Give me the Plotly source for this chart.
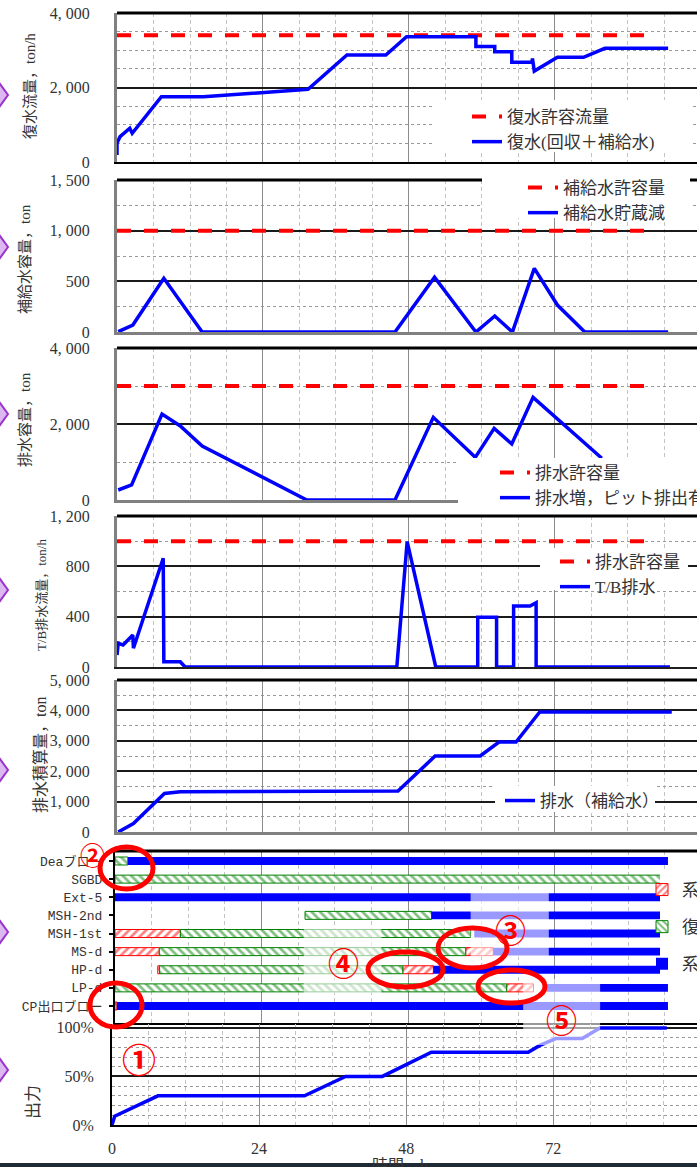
import plotly.graph_objects as go

W, H = 697, 1167

# ------------------------------------------------------------------ data
x_tick_vals = [0, 24, 48, 72, 96]
x_tick_text = ["0", "24", "48", "72", "96"]
x_title = "時間，h"

limit_t = [0, 88]

# panel 1 : 復水流量
cond_t = [0, 0, 0.5, 2.1, 2.5, 7.3, 14.2, 31.4, 37.8, 44.2, 47.6, 59.0, 59.0, 62.1, 62.1,
          64.9, 64.9, 68.2, 68.3, 68.6, 72.4, 76.7, 80.2, 90.6]
cond_v = [190, 510, 680, 905, 770, 1753, 1753, 1950, 2872, 2872, 3364, 3364, 3100, 3100, 2962,
          2962, 2677, 2677, 2780, 2442, 2810, 2810, 3052, 3052]
cond_limit = [3400, 3400]
p1_ticks = [0, 2000, 4000]
p1_text = ["0", "2, 000", "4, 000"]

# panel 2 : 補給水容量
mk_t = [0.2, 2.6, 7.7, 14.0, 45.7, 52.2, 59.0, 62.1, 65.0, 68.6, 72.4, 76.9, 90.6]
mk_v = [3, 69, 530, 0, 0, 540, 0, 158, 0, 628, 266, 0, 0]
mk_limit = [1000, 1000]
p2_ticks = [0, 500, 1000, 1500]
p2_text = ["0", "500", "1, 000", "1, 500"]

# panel 3 : 排水容量
dr_t = [0.2, 2.4, 7.4, 10.4, 14.0, 31.2, 45.7, 52.0, 58.9, 62.0, 64.9, 68.4, 79.7]
dr_v = [263, 395, 2263, 1947, 1421, 0, 0, 2175, 1123, 1886, 1474, 2702, 1097]
dr_limit = [3000, 3000]
p3_ticks = [0, 2000, 4000]
p3_text = ["0", "2, 000", "4, 000"]

# panel 4 : T/B排水流量
tb_t = [0, 0.2, 1.0, 2.6, 2.7, 7.6, 7.7, 10.4, 11.2, 46.0, 47.7, 52.4, 59.3, 59.3, 62.4, 62.4,
        65.2, 65.2, 67.9, 68.9, 68.9, 90.9]
tb_v = [95, 188, 175, 254, 149, 864, 42, 42, 0, 0, 996, 0, 0, 395, 395, 0,
        0, 485, 485, 511, 0, 0]
tb_limit = [1000, 1000]
p4_ticks = [0, 400, 800, 1200]
p4_text = ["0", "400", "800", "1, 200"]

# panel 5 : 排水積算量
cum_t = [0.2, 2.7, 7.8, 10.4, 46.2, 52.3, 59.7, 62.8, 65.6, 69.5, 91.2]
cum_v = [0, 280, 1266, 1327, 1345, 2500, 2500, 2960, 2960, 3947, 3947]
p5_ticks = [0, 1000, 2000, 3000, 4000, 5000]
p5_text = ["0", "1, 000", "2, 000", "3, 000", "4, 000", "5, 000"]

# panel 6 : gantt
gantt_rows = ["Deaブロー", "SGBD", "Ext-5", "MSH-2nd", "MSH-1st", "MS-d", "HP-d", "LP-d", "CP出口ブロー"]
red_row = ["MSH-1st", "MS-d", "HP-d", "MS-d", "HP-d", "LP-d", "CP出口ブロー"]
red_start = [0, 0, 7.0, 57.4, 47.1, 64.1, 0]
red_end = [10.7, 7.25, 7.3, 61.9, 52.1, 68.5, 0.3]
green_row = ["Deaブロー", "SGBD", "MSH-2nd", "MSH-1st", "MS-d", "HP-d", "LP-d"]
green_start = [0, 0, 31.1, 10.7, 7.25, 7.3, 0]
green_end = [2.1, 90.5, 51.8, 58.2, 57.4, 47.1, 64.1]
blue_row = ["Deaブロー", "Ext-5", "MSH-2nd", "MSH-1st", "MS-d", "HP-d", "LP-d", "CP出口ブロー"]
blue_start = [2.1, 0, 51.8, 58.8, 61.9, 52.1, 70.7, 0.3]
blue_end = [90.5, 90.5, 90.5, 90.5, 90.5, 90.5, 90.5, 90.5]
gantt_names = ["系統内回収", "復水器回収", "系外排出"]

# panel 7 : 出力
pw_t = [0, 0.44, 7.5, 31.4, 38.1, 44.1, 52.1, 67.9, 69.8, 72.4, 76.7, 79.6, 90.5]
pw_v = [0, 0.09, 0.30, 0.30, 0.50, 0.50, 0.75, 0.75, 0.82, 0.89, 0.89, 1.0, 1.0]
p7_ticks = [0, 0.5, 1.0]
p7_text = ["0%", "50%", "100%"]

# ------------------------------------------------------------------ style
BLUE = "#0000FF"
RED = "#FF0000"
GREEN = "#008000"
TXT = "#333333"
SERIF = "Liberation Serif, Noto Sans CJK JP, serif"
MONO = "Liberation Mono, Noto Sans CJK JP, monospace"
CJK = "Noto Sans CJK JP, sans-serif"
DASH = "14px,13px"


def px(v):
    return v / W


def py(v):
    return 1 - v / H


# panel geometry (pixels): top, bottom, left, px per hour
geo = {
    1: (13, 162, 117, 6.083),
    2: (180, 332, 117, 6.083),
    3: (348, 500, 117, 6.083),
    4: (516, 667, 117, 6.083),
    5: (680, 832, 117, 6.083),
    6: (851, 1023, 115, 6.11),
    7: (1024, 1125, 112, 6.13),
}

fig = go.Figure()


def ax(i):
    return ("x" if i == 1 else f"x{i}"), ("y" if i == 1 else f"y{i}")


def add_line(i, t, v, name, color, legend, dash=None, width=3.5, show=True):
    xa, ya = ax(i)
    fig.add_trace(go.Scatter(x=t, y=v, mode="lines", name=name,
                             line=dict(color=color, width=width, dash=dash),
                             xaxis=xa, yaxis=ya, legend=legend, showlegend=show,
                             hoverinfo="skip"))


add_line(1, limit_t, cond_limit, "復水許容流量", RED, "legend", DASH, 4)
add_line(1, cond_t, cond_v, "復水(回収＋補給水)", BLUE, "legend")
add_line(2, limit_t, mk_limit, "補給水許容量", RED, "legend2", DASH, 4)
add_line(2, mk_t, mk_v, "補給水貯蔵減", BLUE, "legend2")
add_line(3, limit_t, dr_limit, "排水許容量", RED, "legend3", DASH, 4)
add_line(3, dr_t, dr_v, "排水増，ピット排出有り", BLUE, "legend3")
add_line(4, limit_t, tb_limit, "排水許容量", RED, "legend4", DASH, 4)
add_line(4, tb_t, tb_v, "T/B排水", BLUE, "legend4")
add_line(5, cum_t, cum_v, "排水（補給水）", BLUE, "legend5")
add_line(7, pw_t, pw_v, "出力", BLUE, "legend", show=False)

row_idx = {r: k for k, r in enumerate(gantt_rows)}


def add_bars(rows, starts, ends, name, kind):
    y = [row_idx[r] for r in rows]
    dur = [e - s for s, e in zip(starts, ends)]
    if kind == "red":
        marker = dict(color="white", line=dict(color=RED, width=1),
                      pattern=dict(shape="/", fgcolor=RED, bgcolor="white", size=6, solidity=0.45))
    elif kind == "green":
        marker = dict(color="white", line=dict(color=GREEN, width=1),
                      pattern=dict(shape="\\", fgcolor=GREEN, bgcolor="white", size=6, solidity=0.45))
    else:
        marker = dict(color=BLUE, line=dict(width=0))
    fig.add_trace(go.Bar(y=y, x=dur, base=starts, orientation="h", width=0.44, name=name,
                         marker=marker, xaxis="x6", yaxis="y6", legend="legend6",
                         legendgroup=kind, hoverinfo="skip"))


add_bars(red_row, red_start, red_end, gantt_names[0], "red")
add_bars(green_row, green_start, green_end, gantt_names[1], "green")
add_bars(blue_row, blue_start, blue_end, gantt_names[2], "blue")

layout = dict(width=W, height=H, autosize=False,
              margin=dict(l=0, r=0, t=0, b=0, pad=0, autoexpand=False),
              paper_bgcolor="white", plot_bgcolor="white", barmode="overlay",
              font=dict(family=SERIF, color=TXT, size=15))

yspecs = {
    1: ([0, 4000], p1_ticks, p1_text, 500),
    2: ([0, 1500], p2_ticks, p2_text, 250),
    3: ([0, 4000], p3_ticks, p3_text, 1000),
    4: ([0, 1200], p4_ticks, p4_text, 200),
    5: ([0, 5000], p5_ticks, p5_text, 500),
    7: ([0, 1.04], p7_ticks, p7_text, 0.1),
}
bottom_line = {1: ("#000000", 2), 2: ("#808080", 3), 3: ("#808080", 3), 4: ("#202020", 2),
               5: ("#808080", 3), 6: ("#000000", 2), 7: ("#000000", 2)}

for i, (top, bot, left, pph) in geo.items():
    xa, ya = ax(i)
    xk = "xaxis" if i == 1 else f"xaxis{i}"
    yk = "yaxis" if i == 1 else f"yaxis{i}"
    lc, lw = bottom_line[i]
    layout[xk] = dict(domain=[px(left), 1], range=[0, (W - left) / pph], anchor=ya,
                      tickmode="array", tickvals=x_tick_vals, ticktext=x_tick_text,
                      showticklabels=(i == 7), ticks="", zeroline=False,
                      showgrid=True, gridcolor="#8c8c8c", gridwidth=1,
                      minor=dict(dtick=6, tick0=0, showgrid=True, gridcolor="#c4c4c4",
                                 griddash="4px,3px", gridwidth=1),
                      showline=True, linecolor=lc, linewidth=lw,
                      tickfont=dict(family=SERIF, size=16, color=TXT), ticklabelstandoff=8,
                      automargin=False, fixedrange=True)
    if i == 6:
        layout[yk] = dict(domain=[py(bot), py(top)], anchor=xa,
                          range=[(bot - 861) / 18.125, (top - 861) / 18.125],
                          tickmode="array", tickvals=list(range(len(gantt_rows))),
                          ticktext=gantt_rows, showgrid=False, zeroline=False,
                          ticks="outside", ticklen=4, tickcolor="#000", tickwidth=1.5,
                          showline=True, linecolor="#000", linewidth=2,
                          tickfont=dict(family=MONO, size=13, color=TXT), ticklabelstandoff=4,
                          automargin=False, fixedrange=True)
    else:
        rng, tv, tt, mdt = yspecs[i]
        layout[yk] = dict(domain=[py(bot), py(top)], anchor=xa, range=rng,
                          tickmode="array", tickvals=tv, ticktext=tt, ticks="",
                          showgrid=True, gridcolor="#1a1a1a", gridwidth=1.5, zeroline=False,
                          minor=dict(dtick=mdt, tick0=0, showgrid=True, gridcolor="#9a9a9a",
                                     griddash="dot", gridwidth=1),
                          showline=True,
                          linecolor=("#000000" if i == 7 else "#808080"),
                          linewidth=(2 if i == 7 else 3),
                          tickfont=dict(family=SERIF, size=16, color=TXT),
                          ticklabelstandoff=(13 if i == 7 else 21),
                          automargin=False, fixedrange=True)

leg_font = dict(size=17, family=SERIF, color=TXT)


def legend_at(xp, yp, gap=0):
    return dict(x=px(xp), y=py(yp), xanchor="left", yanchor="top", bgcolor="rgba(0,0,0,0)",
                borderwidth=0, font=leg_font, tracegroupgap=gap, itemwidth=30)


layout["legend"] = legend_at(467, 99)
layout["legend2"] = legend_at(523, 170)
layout["legend3"] = legend_at(495, 455)
layout["legend4"] = legend_at(555, 544)
layout["legend5"] = legend_at(500, 783)
layout["legend6"] = legend_at(642, 872, 12)

shapes = []
# top borders
for i, (top, bot, left, pph) in geo.items():
    if i == 7:
        continue
    shapes.append(dict(type="line", xref="paper", yref="paper", x0=px(left), x1=1,
                       y0=py(top), y1=py(top), line=dict(color="#000", width=3), layer="above"))

# faded highlight windows (gantt coordinates): hours and row extents
fade_boxes = [
    (30.9, 43.6, 3.55, 7.3),
    (58.2, 71.0, 1.55, 5.3),
]
for h0, h1, r0, r1 in fade_boxes:
    shapes.append(dict(type="rect", xref="x6", yref="y6", x0=h0, x1=h1, y0=r0, y1=r1,
                       fillcolor="rgba(255,255,255,0.6)", line=dict(width=0), layer="above"))
shapes.append(dict(type="rect", xref="x6", yref="paper", x0=66.8, x1=79.4, y0=py(1045), y1=py(979),
                   fillcolor="rgba(255,255,255,0.6)", line=dict(width=0), layer="above"))

# legend background boxes (pixels)
for x0, y0, x1, y1 in [(432, 100, 693, 152), (482, 172, 690, 218), (458, 458, 700, 506),
                       (540, 548, 688, 590), (495, 786, 655, 812), (660, 871, 700, 984)]:
    shapes.append(dict(type="rect", xref="paper", yref="paper", x0=px(x0), x1=px(x1),
                       y0=py(y1), y1=py(y0), fillcolor="white", line=dict(width=0), layer="above"))

# red ellipses
for x0, y0, x1, y1 in [(100, 847, 153, 889), (90, 983, 142, 1027), (438, 928, 507, 968),
                       (368, 952, 443, 987), (478, 970, 545, 1003)]:
    shapes.append(dict(type="circle", xref="paper", yref="paper", x0=px(x0), x1=px(x1),
                       y0=py(y1), y1=py(y0), line=dict(color=RED, width=5), layer="above"))

# purple diamonds at left edge
for cy in [95, 247, 414, 590, 770, 932, 1070]:
    path = (f"M {px(-8)},{py(cy)} L {px(0)},{py(cy - 11)} L {px(8)},{py(cy)} "
            f"L {px(0)},{py(cy + 11)} Z")
    shapes.append(dict(type="path", xref="paper", yref="paper", path=path,
                       fillcolor="#DDB8F0", line=dict(color="#9933CC", width=2), layer="above"))

# dark band at bottom
shapes.append(dict(type="rect", xref="paper", yref="paper", x0=0, x1=1, y0=0, y1=py(1163),
                   fillcolor="#1F2A36", line=dict(width=0), layer="above"))
layout["shapes"] = shapes

annotations = []
for text, cx, cy, size in [("復水流量，ton/h", 30, 86, 15), ("補給水容量，ton", 25, 259, 15),
                           ("排水容量，ton", 25, 420, 15), ("T/B排水流量，ton/h", 41, 595, 13),
                           ("排水積算量，ton", 40, 755, 16), ("出力", 33, 1102, 17)]:
    annotations.append(dict(text=text, x=px(cx), y=py(cy), xref="paper", yref="paper",
                            showarrow=False, textangle=-90, xanchor="center", yanchor="middle",
                            font=dict(family=SERIF, size=size, color=TXT)))
for text, cx, cy, size in [("①", 139, 1058, 34), ("②", 92, 854, 25), ("③", 510, 929, 31),
                           ("④", 343, 961, 31), ("⑤", 561, 1018, 31)]:
    annotations.append(dict(text=text, x=px(cx), y=py(cy), xref="paper", yref="paper",
                            showarrow=False, xanchor="center", yanchor="middle",
                            font=dict(family=CJK, size=size, color=RED, weight="bold")))
annotations.append(dict(text=x_title, x=px(400), y=py(1155), xref="paper", yref="paper",
                        showarrow=False, xanchor="center", yanchor="top",
                        font=dict(family=SERIF, size=16, color=TXT)))
layout["annotations"] = annotations

fig.update_layout(**layout)
fig.write_html("out.html")
